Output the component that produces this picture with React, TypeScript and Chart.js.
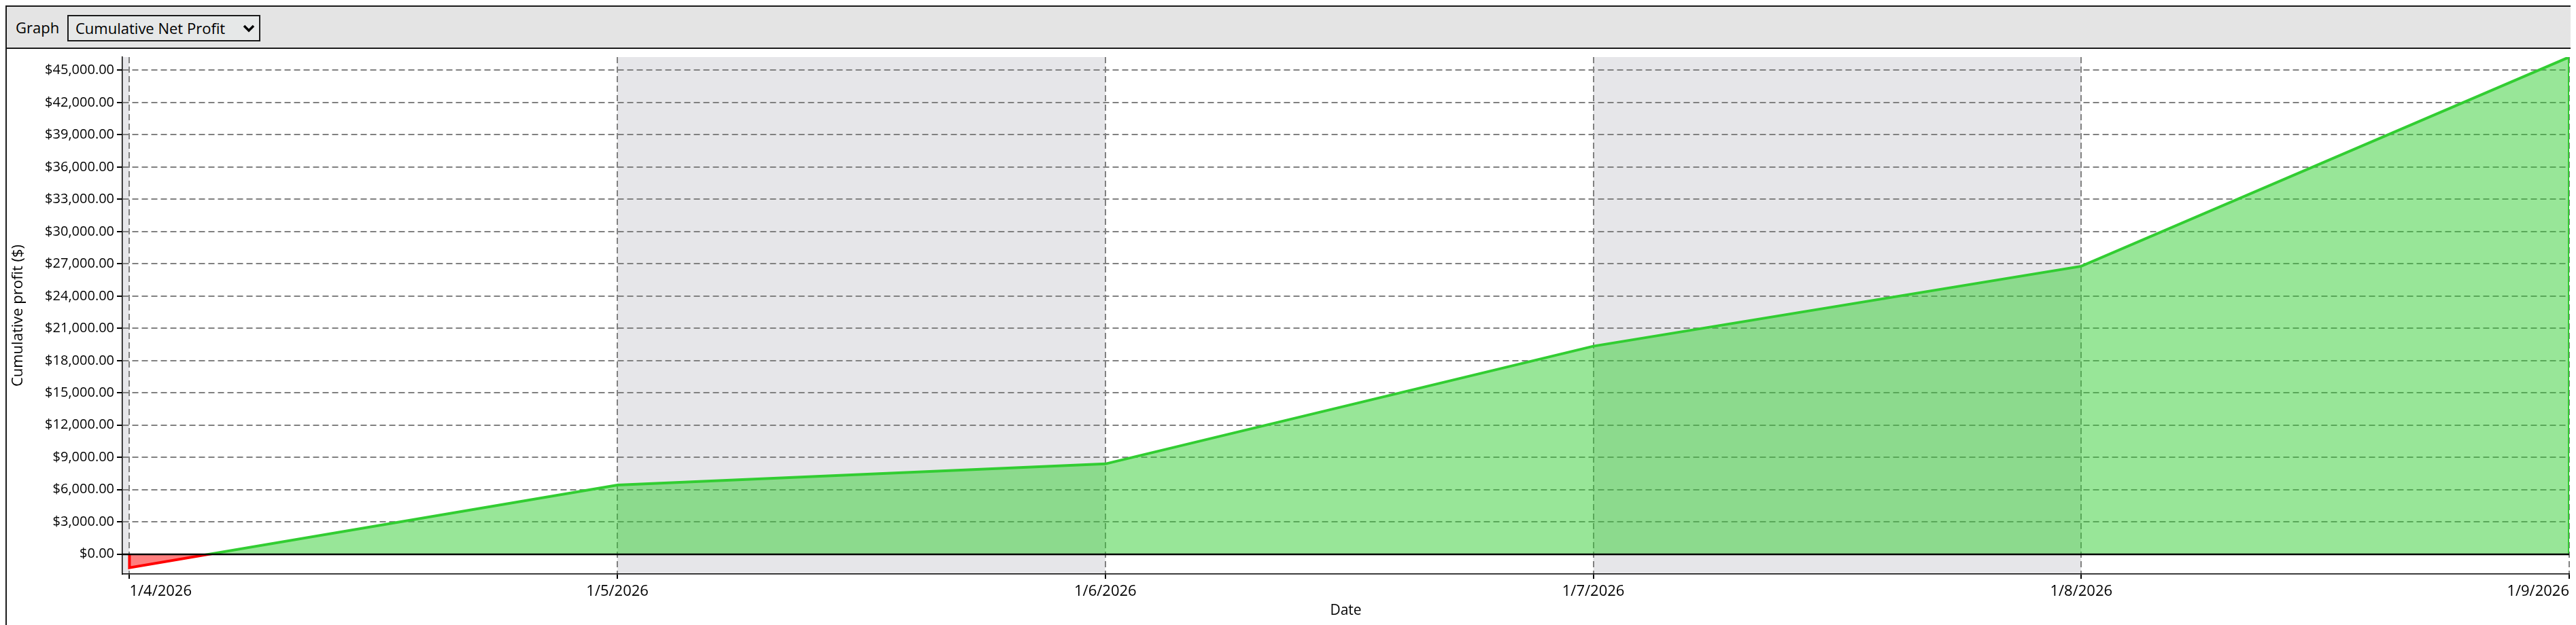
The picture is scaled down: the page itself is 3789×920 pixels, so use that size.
import React, { useEffect, useRef } from "react";
import { Chart, registerables } from "chart.js";

Chart.register(...registerables);

// ---- data ----
const dayLabels = ["1/4/2026", "1/5/2026", "1/6/2026", "1/7/2026", "1/8/2026", "1/9/2026"];
const dayTickValues = [0, 1, 2, 3, 4, 5];
const pointDays = [0, 0, 1, 2, 3, 4, 5, 5];
const cumulativeProfit = [0, -1262, 6420, 8395, 19340, 26780, 46230, 0];
const yTickValues = [0, 3000, 6000, 9000, 12000, 15000, 18000, 21000, 24000, 27000, 30000, 33000, 36000, 39000, 42000, 45000];
const shadedDayStarts = [-1, 1, 3];
const xRange = [-0.0145, 5];
const yRange = [-1850, 46230];

const FONT = "'Open Sans', 'Noto Sans', sans-serif";
const GREEN = "#32cd32";
const RED = "#ff0000";

const fmtMoney = (v: number) =>
  "$" + v.toLocaleString("en-US", { minimumFractionDigits: 2, maximumFractionDigits: 2 });

const bandsPlugin = {
  id: "dayBands",
  beforeDraw(chart: any) {
    const { ctx, chartArea, scales } = chart;
    if (!chartArea) return;
    const { left, right, top, bottom } = chartArea;
    const x = scales.x;
    ctx.save();
    ctx.fillStyle = "#e6e6e9";
    shadedDayStarts.forEach((d) => {
      const x1 = Math.max(left, x.getPixelForValue(d));
      const x2 = Math.min(right, x.getPixelForValue(d + 1));
      if (x2 > x1) ctx.fillRect(x1, top, x2 - x1, bottom - top);
    });
    ctx.restore();
  },
};

const zeroLinePlugin = {
  id: "zeroLine",
  afterDatasetsDraw(chart: any) {
    const { ctx, chartArea, scales } = chart;
    const y0 = Math.round(scales.y.getPixelForValue(0));
    ctx.save();
    ctx.strokeStyle = "#000";
    ctx.lineWidth = 2.5;
    ctx.beginPath();
    ctx.moveTo(chartArea.left, y0);
    ctx.lineTo(chartArea.right, y0);
    ctx.stroke();
    ctx.restore();
  },
};

function ProfitChart() {
  const ref = useRef<HTMLCanvasElement | null>(null);
  useEffect(() => {
    if (!ref.current) return;
    const data = pointDays.map((d, i) => ({ x: d, y: cumulativeProfit[i] }));
    const chart = new Chart(ref.current, {
      type: "line",
      data: {
        datasets: [
          {
            data,
            borderWidth: 4,
            pointRadius: 0,
            tension: 0,
            borderColor: (c: any) => {
              const ch = c.chart;
              const ca = ch.chartArea;
              if (!ca) return GREEN;
              const y0 = ch.scales.y.getPixelForValue(0);
              const g = ch.ctx.createLinearGradient(0, ca.top, 0, ca.bottom);
              const f = Math.min(1, Math.max(0, (y0 - ca.top) / (ca.bottom - ca.top)));
              g.addColorStop(0, GREEN);
              g.addColorStop(f, GREEN);
              g.addColorStop(f, RED);
              g.addColorStop(1, RED);
              return g;
            },
            fill: { target: "origin", above: "rgba(50,205,50,0.5)", below: "rgba(255,0,0,0.5)" },
          } as any,
        ],
      },
      options: {
        animation: false,
        responsive: false,
        maintainAspectRatio: false,
        layout: { padding: { top: 12, right: 10, left: 0, bottom: 0 } },
        plugins: { legend: { display: false }, tooltip: { enabled: false } },
        scales: {
          x: {
            type: "linear",
            min: xRange[0],
            max: xRange[1],
            afterBuildTicks: (s: any) => {
              s.ticks = dayTickValues.map((v) => ({ value: v }));
            },
            afterFit: (s: any) => {
              s.height = 75;
              s.paddingLeft = 0;
              s.paddingRight = 0;
            },
            ticks: {
              align: "inner",
              autoSkip: false,
              maxRotation: 0,
              padding: 6,
              color: "#000",
              font: { family: FONT, size: 22 },
              callback: (v: any) => dayLabels[dayTickValues.indexOf(v)] ?? "",
            },
            grid: {
              color: "#808080",
              lineWidth: 2,
              tickColor: "#000",
              tickLength: 7,
              tickWidth: 2,
              tickBorderDash: [],
            },
            border: { display: true, color: "#000", width: 1.5, dash: [9, 5] },
            title: {
              display: true,
              text: "Date",
              color: "#000",
              font: { family: FONT, size: 21 },
              padding: { top: 0, bottom: 8 },
            },
          } as any,
          y: {
            type: "linear",
            min: yRange[0],
            max: yRange[1],
            afterBuildTicks: (s: any) => {
              s.ticks = yTickValues.map((v) => ({ value: v }));
            },
            afterFit: (s: any) => {
              s.width = 170;
              s.paddingTop = 0;
              s.paddingBottom = 0;
            },
            ticks: {
              padding: 4,
              color: "#000",
              font: { family: FONT, size: 20 },
              callback: (v: any) => fmtMoney(Number(v)),
            },
            grid: {
              color: (c: any) => (c.tick && c.tick.value === 0 ? "rgba(0,0,0,0)" : "#808080"),
              lineWidth: 2,
              tickColor: "#000",
              tickLength: 8,
              tickWidth: 2,
              tickBorderDash: [],
            },
            border: { display: true, color: "#000", width: 1.5, dash: [9, 5] },
            title: {
              display: true,
              text: "Cumulative profit ($)",
              color: "#000",
              font: { family: FONT, size: 22 },
              padding: { top: 4, bottom: 0 },
            },
          } as any,
        },
      },
      plugins: [bandsPlugin, zeroLinePlugin],
    });
    return () => chart.destroy();
  }, []);
  return <canvas ref={ref} width={3779} height={848} style={{ display: "block", width: 3779, height: 848 }} />;
}

export default function App() {
  return (
    <div
      style={{
        width: 3781,
        height: 912,
        boxSizing: "border-box",
        borderTop: "2px solid #1a1a1a",
        borderLeft: "2px solid #1a1a1a",
        background: "#fff",
        overflow: "hidden",
        fontFamily: FONT,
      }}
    >
      <div
        style={{
          height: 60,
          background: "#e4e4e4",
          borderBottom: "2px solid #1a1a1a",
          position: "relative",
        }}
      >
        <span
          style={{
            position: "absolute",
            left: 13,
            top: 0,
            height: 60,
            lineHeight: "60px",
            fontSize: 22,
            color: "#000",
          }}
        >
          Graph
        </span>
        <div
          style={{
            position: "absolute",
            left: 89,
            top: 12,
            width: 284,
            height: 39,
            boxSizing: "border-box",
            border: "2px solid #1a1a1a",
            background: "#e6e8e8",
          }}
        >
          <span
            style={{
              position: "absolute",
              left: 10,
              top: 0,
              lineHeight: "35px",
              fontSize: 22,
              color: "#000",
              whiteSpace: "nowrap",
            }}
          >
            Cumulative Net Profit
          </span>
          <svg
            width="18"
            height="12"
            viewBox="0 0 18 12"
            style={{ position: "absolute", left: 256, top: 12 }}
          >
            <polyline points="2,2 9,9 16,2" fill="none" stroke="#000" strokeWidth="3.5" />
          </svg>
        </div>
      </div>
      <ProfitChart />
    </div>
  );
}
